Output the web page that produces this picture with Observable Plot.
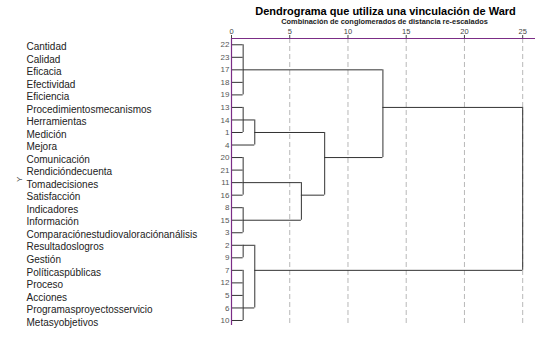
<!DOCTYPE html>
<html><head><meta charset="utf-8">
<script src="https://cdn.jsdelivr.net/npm/d3@7"></script>
<script src="https://cdn.jsdelivr.net/npm/@observablehq/plot@0.6"></script>
<style>body{margin:0;background:#fff;} svg{display:block}</style>
</head><body><div id="chart"></div>
<script>
// Leaves, top to bottom
const caseNames = ["Cantidad","Calidad","Eficacia","Efectividad","Eficiencia","Procedimientosmecanismos","Herramientas","Medición","Mejora","Comunicación","Rendicióndecuenta","Tomadecisiones","Satisfacción","Indicadores","Información","Comparaciónestudiovaloraciónanálisis","Resultadoslogros","Gestión","Políticaspúblicas","Proceso","Acciones","Programasproyectosservicio","Metasyobjetivos"];
const caseIds = [22,23,17,18,19,13,14,1,4,20,21,11,16,8,15,3,2,9,7,12,5,6,10];

// Merges (children are case ids or earlier merge names)
const mergeNames    = ["A","Bi","B","C","D","CD","BCD","ABCD","E1","E2","E","root"];
const mergeChildren = [[22,23,17,18,19],[13,14,1],["Bi",4],[20,21,11,16],[8,15,3],["C","D"],["B","CD"],["A","BCD"],[2,9],[7,12,5,6,10],["E1","E2"],["ABCD","E"]];
const mergeHeights  = [1,1,2,1,1,6,8,13,1,1,2,25];
const mergeOutCase  = [17,14,1,11,15,16,20,13,2,6,7,null];

const xTicks = [0,5,10,15,20,25];
const titleText = "Dendrograma que utiliza una vinculación de Ward";
const subtitleText = "Combinación de conglomerados de distancia re-escalados";
const yLabel = "Y";

const node = new Map();
caseIds.forEach((id,i)=>node.set(String(id),{row:i,h:0}));
const hSegs=[], vSegs=[];
mergeNames.forEach((name,k)=>{
  const kids = mergeChildren[k].map(c=>node.get(String(c)));
  const h = mergeHeights[k];
  kids.forEach(c=>hSegs.push({y:c.row,x1:c.h,x2:h}));
  const rws = kids.map(c=>c.row);
  vSegs.push({x:h,y1:d3.min(rws),y2:d3.max(rws)});
  const oc = mergeOutCase[k];
  node.set(name,{row: oc==null?null:caseIds.indexOf(oc), h});
});

const rows = caseIds.map((id,i)=>({i,id:String(id),name:caseNames[i]}));
const purple = "#7b2d86";
const lineColor = "#333";

const chart = Plot.plot({
  width:541, height:350,
  marginTop:38, marginBottom:25, marginLeft:231, marginRight:6,
  style:{fontFamily:"'Liberation Sans', Arial, sans-serif", fontSize:"7.5px", color:"#444", background:"#fff"},
  x:{domain:[0,26.1], axis:"top", ticks:xTicks, tickSize:4, tickPadding:1, label:null},
  y:{domain:[-0.5,22.4], reverse:true, axis:null},
  marks:[
    Plot.ruleX(xTicks.filter(d=>d>0), {stroke:"#b8b8b8", strokeDasharray:"5,3"}),
    Plot.ruleY(hSegs, {y:"y", x1:"x1", x2:"x2", stroke:lineColor, strokeWidth:1}),
    Plot.ruleX(vSegs, {x:"x", y1:"y1", y2:"y2", stroke:lineColor, strokeWidth:1}),
    Plot.ruleY([-0.5], {stroke:purple, strokeWidth:1.2}),
    Plot.ruleX([0], {stroke:purple, strokeWidth:1.2}),
    Plot.text(rows, {y:"i", text:"id", frameAnchor:"left", textAnchor:"end", dx:-2, fontSize:8, fill:"#555", ariaLabel:"ids"}),
    Plot.text(rows, {y:"i", text:"name", frameAnchor:"left", textAnchor:"start", dx:-205, dy:2, fontSize:10, fill:"#222", ariaLabel:"names"}),
    Plot.text([yLabel], {text:d=>d, frameAnchor:"left", dx:-212, rotate:-90, fontSize:8, fill:"#555"}),
    Plot.text([titleText], {text:d=>d, frameAnchor:"top", dx:2, dy:-23.5, lineAnchor:"bottom", fontSize:11, fontWeight:"bold", fill:"#000"}),
    Plot.text([subtitleText], {text:d=>d, frameAnchor:"top", dx:1, dy:-14.8, lineAnchor:"bottom", fontSize:7.4, fontWeight:"bold", fill:"#222"})
  ]
});
d3.select(chart).select('g[aria-label="names"]').attr("letter-spacing","0.33px");
d3.select(chart).select('g[aria-label="ids"]').attr("letter-spacing","0.5px");
document.getElementById("chart").appendChild(chart);
</script>
</body></html>
